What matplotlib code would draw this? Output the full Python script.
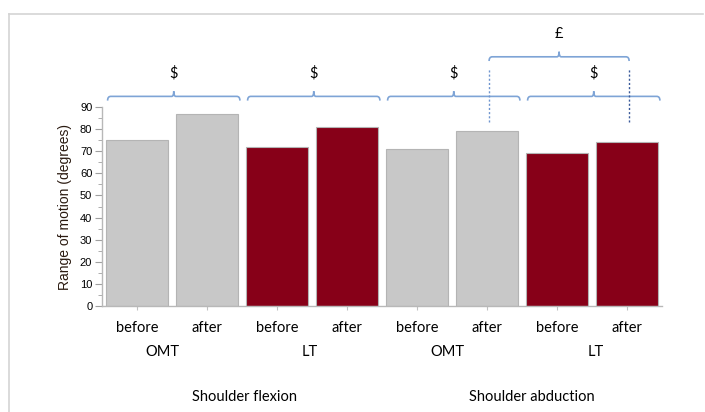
import numpy as np
import matplotlib
matplotlib.use("Agg")
import matplotlib.pyplot as plt
from matplotlib.path import Path
from matplotlib.patches import PathPatch
from matplotlib.lines import Line2D
from matplotlib.ticker import MultipleLocator

# bar values (degrees)
phases = ["before", "after", "before", "after", "before", "after", "before", "after"]
values = [75, 87, 72, 81, 71, 79, 69, 74]
groups = ["OMT", "LT", "OMT", "LT"]
movements = ["Shoulder flexion", "Shoulder abduction"]
pair_marks = ["$", "$", "$", "$"]
cross_mark = "£"

grey = "#c8c8c8"
red = "#870018"
colors = [grey, grey, red, red, grey, grey, red, red]
brace_col = "#7ea4d6"

plt.rcParams["font.family"] = ["Liberation Sans", "DejaVu Sans"]
cat_font = ["Lato", "DejaVu Sans"]

fig = plt.figure(figsize=(7.05, 4.12), dpi=100)
ax = fig.add_axes([102 / 705, 106 / 412, 560 / 705, 199 / 412])

x = np.arange(len(values))
ax.bar(x, values, width=0.885, color=colors, edgecolor="#b4b4b4", linewidth=0.8, zorder=2)

ax.set_xlim(-0.5, 7.5)
ax.set_ylim(0, 90)
ax.yaxis.set_major_locator(MultipleLocator(10))
ax.yaxis.set_minor_locator(MultipleLocator(5))
ax.tick_params(axis="y", which="major", length=5, color="#a0a0a0", labelsize=8, pad=2)
ax.tick_params(axis="y", which="minor", length=3, color="#a0a0a0")
ax.set_xticks(x)
ax.set_xticklabels([])
ax.tick_params(axis="x", length=3, color="#c0c0c0")
for s in ["top", "right"]:
    ax.spines[s].set_visible(False)
for s in ["left", "bottom"]:
    ax.spines[s].set_color("#b8b8b8")
    ax.spines[s].set_linewidth(1.0)
ax.set_ylabel("Range of motion (degrees)", fontsize=10, labelpad=6, color="#2a1a10")

# category labels below the axis
for xi, lab in zip(x, phases):
    ax.text(xi, -10, lab, ha="center", va="center", fontsize=10.5, family=cat_font, clip_on=False)
for xi, lab in zip([0.37, 2.47, 4.43, 6.56], groups):
    ax.text(xi, -21, lab, ha="center", va="center", fontsize=10.5, family=cat_font, clip_on=False)
for xi, lab in zip([1.54, 5.64], movements):
    ax.text(xi, -41.3, lab, ha="center", va="center", fontsize=10.5, family=cat_font, clip_on=False)


def brace(x0, x1, y, label):
    # curly bracket opening downwards with a small peak in the middle
    dx, dy = 0.045, 1.9
    xc = (x0 + x1) / 2
    w, h = 0.03, 2.3
    verts = [(x0, y - dy), (x0, y), (x0 + dx, y),
             (xc - w, y), (xc, y), (xc, y + h),
             (xc, y), (xc + w, y),
             (x1 - dx, y), (x1, y), (x1, y - dy)]
    codes = [Path.MOVETO, Path.CURVE3, Path.CURVE3,
             Path.LINETO, Path.CURVE3, Path.CURVE3,
             Path.CURVE3, Path.CURVE3,
             Path.LINETO, Path.CURVE3, Path.CURVE3]
    ax.add_patch(PathPatch(Path(verts, codes), fill=False, edgecolor=brace_col,
                           linewidth=1.2, clip_on=False))
    ax.text(xc, y + 10.5, label, ha="center", va="center", fontsize=10.5,
            family=cat_font, clip_on=False)


for i, m in enumerate(pair_marks):
    brace(2 * i - 0.42, 2 * i + 1.47, 94.8, m)

brace(5.03, 7.03, 112.7, cross_mark)
ax.plot([5.03, 5.03], [83.3, 107], ls=(0, (1.5, 1.5)), color="#6f95cf", lw=1.0, clip_on=False)
ax.plot([7.03, 7.03], [83.3, 107], ls=(0, (1.5, 1.5)), color="#3a5a9a", lw=1.0, clip_on=False)

# outer frame lines
fig.add_artist(Line2D([9 / 705, 703 / 705], [1 - 14 / 412, 1 - 14 / 412], color="#d4d4d4", lw=1.2))
fig.add_artist(Line2D([9 / 705, 9 / 705], [0, 1 - 14 / 412], color="#d4d4d4", lw=1.2))

fig.savefig("out.png", dpi=100)
